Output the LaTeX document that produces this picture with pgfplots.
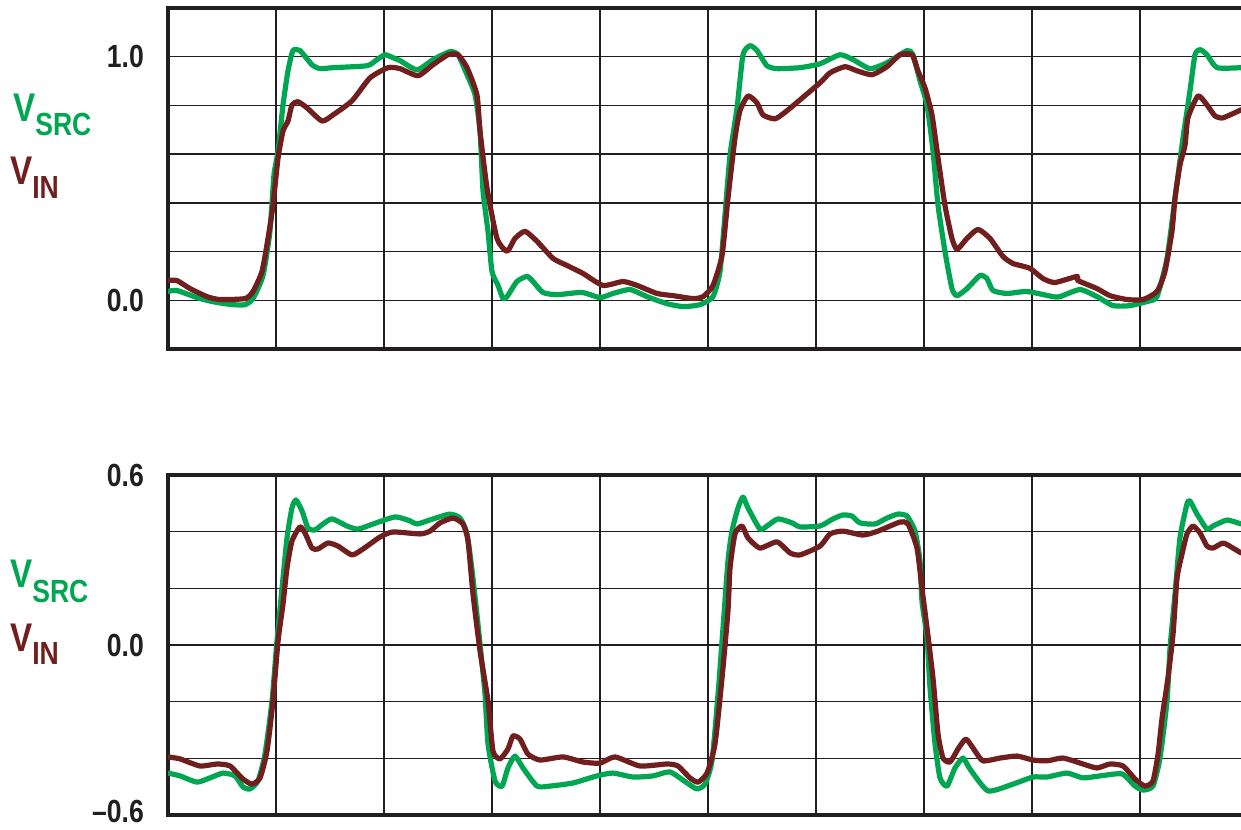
\documentclass[border=0pt]{standalone}
\usepackage{pgfplots}
\pgfplotsset{compat=1.18}
\usepackage{fontspec}
\setmainfont{Liberation Sans}[FakeStretch=0.83]
\definecolor{src}{RGB}{0,166,81}
\definecolor{vin}{RGB}{112,30,30}
\definecolor{frame}{RGB}{35,31,32}
\begin{document}
\begin{tikzpicture}
\path[use as bounding box] (0,0) rectangle (1241bp,830bp);
\pgfplotsset{panel/.style={scale only axis, width=1080bp, xmin=0, xmax=10,
  xtick={1,2,3,4,5,6,7,8,9}, xticklabels={}, grid=major,
  major grid style={line width=1.4bp, color=frame},
  major tick length=0pt,
  axis line style={line width=4bp, color=frame},
  tick label style={font=\fontsize{32bp}{32bp}\selectfont\bfseries, text=frame},
  yticklabel style={inner sep=0pt, xshift=-24bp},
  every axis plot/.append style={line width=5.2bp, line join=round, line cap=round, smooth, tension=0.35}}}
% ---------------- top panel ----------------
\begin{axis}[panel, at={(168bp,481bp)}, anchor=south west, height=341bp,
  ymin=-0.2, ymax=1.2, ytick={0,0.2,0.4,0.6,0.8,1.0}, yticklabels={0.0,{},{},{},{},1.0}]
\addplot[src] coordinates {
(0,0.036) (0.083,0.040) (0.296,0.007) (0.454,-0.009) (0.602,-0.018) (0.713,-0.018) (0.787,0.007)
(0.880,0.102) (0.944,0.283) (0.981,0.514) (1.019,0.613) (1.065,0.802) (1.111,0.942) (1.157,1.025)
(1.222,1.025) (1.333,0.967) (1.407,0.951) (1.528,0.955) (1.843,0.963) (1.935,0.988) (2.009,1.008)
(2.083,0.996) (2.148,0.984) (2.306,0.946) (2.454,0.988) (2.611,1.021) (2.685,1.008) (2.769,0.926)
(2.843,0.843) (2.889,0.695) (2.917,0.448) (2.963,0.283) (3.0,0.118) (3.056,0.061) (3.102,0.007)
(3.139,0.015) (3.231,0.077) (3.324,0.098) (3.380,0.077) (3.472,0.032) (3.602,0.023) (3.833,0.032)
(4.0,0.011) (4.120,0.028) (4.278,0.044) (4.435,0.015) (4.620,-0.014) (4.769,-0.026) (4.926,-0.018)
(5.046,0.015) (5.111,0.118) (5.157,0.349) (5.204,0.596) (5.269,0.790) (5.324,1.008) (5.389,1.045)
(5.454,1.025) (5.546,0.963) (5.639,0.951) (5.852,0.955) (6.037,0.971) (6.222,1.008) (6.343,0.988)
(6.5,0.951) (6.657,0.975) (6.843,1.025) (6.898,1.008) (6.963,0.901) (7.028,0.802) (7.083,0.613)
(7.130,0.390) (7.194,0.201) (7.259,0.048) (7.306,0.019) (7.398,0.048) (7.519,0.102) (7.583,0.089)
(7.639,0.040) (7.769,0.028) (7.954,0.036) (8.194,0.015) (8.259,0.015) (8.444,0.044) (8.602,0.015)
(8.750,-0.022) (8.907,-0.022) (9.065,-0.005) (9.157,0.015) (9.250,0.172) (9.324,0.419) (9.398,0.666)
(9.463,0.860) (9.509,1.008) (9.556,1.029) (9.620,1.008) (9.713,0.955) (9.935,0.955)
};
\addplot[vin] coordinates {
(0,0.081) (0.083,0.081) (0.204,0.048) (0.361,0.015) (0.481,0.003) (0.713,0.007) (0.787,0.036)
(0.870,0.118) (0.926,0.254) (0.972,0.390) (1.019,0.584) (1.065,0.695) (1.111,0.736) (1.148,0.802)
(1.204,0.815) (1.287,0.790) (1.426,0.736) (1.528,0.761) (1.704,0.819) (1.870,0.913) (2.037,0.955)
(2.148,0.951) (2.315,0.922) (2.454,0.967) (2.593,1.008) (2.685,1.008) (2.769,0.955) (2.861,0.843)
(2.889,0.695) (2.954,0.460) (3.046,0.254) (3.139,0.201) (3.213,0.254) (3.306,0.283) (3.417,0.242)
(3.565,0.172) (3.694,0.143) (3.843,0.110) (4.028,0.061) (4.213,0.077) (4.343,0.061) (4.528,0.028)
(4.676,0.019) (4.861,0.007) (4.954,0.015) (5.046,0.061) (5.130,0.184) (5.185,0.419) (5.250,0.666)
(5.296,0.778) (5.370,0.839) (5.454,0.810) (5.509,0.761) (5.620,0.745) (5.731,0.778) (6.037,0.893)
(6.130,0.934) (6.269,0.959) (6.380,0.942) (6.519,0.926) (6.657,0.959) (6.778,1.008) (6.889,1.008)
(6.944,0.942) (7.009,0.872) (7.074,0.761) (7.130,0.584) (7.194,0.390) (7.259,0.254) (7.306,0.209)
(7.398,0.254) (7.5,0.291) (7.611,0.254) (7.731,0.180) (7.824,0.151) (7.981,0.131) (8.102,0.089)
(8.213,0.073) (8.417,0.098) (8.426,0.081) (8.602,0.048) (8.722,0.019) (8.880,0.003) (9.028,0.003)
(9.157,0.036) (9.231,0.118) (9.296,0.283) (9.324,0.419) (9.370,0.555) (9.417,0.637) (9.444,0.749)
(9.537,0.839) (9.620,0.802) (9.694,0.757) (9.769,0.749) (9.935,0.782)
};
\end{axis}
% ---------------- bottom panel ----------------
\begin{axis}[panel, at={(168bp,15bp)}, anchor=south west, height=340bp,
  ymin=-0.6, ymax=0.6, ytick={-0.6,-0.4,-0.2,0,0.2,0.4,0.6},
  yticklabels={\raisebox{8bp}{–0.6},{},{},0.0,{},{},0.6}]
\addplot[src] coordinates {
(0,-0.452) (0.111,-0.462) (0.269,-0.484) (0.389,-0.469) (0.509,-0.452) (0.620,-0.462) (0.694,-0.501)
(0.759,-0.508) (0.833,-0.480) (0.898,-0.385) (0.963,-0.198) (1.009,0.014) (1.056,0.201) (1.102,0.378)
(1.148,0.484) (1.185,0.512) (1.241,0.473) (1.296,0.413) (1.361,0.406) (1.435,0.427) (1.519,0.445)
(1.657,0.420) (1.759,0.409) (1.898,0.427) (2.102,0.452) (2.241,0.438) (2.306,0.427) (2.454,0.445)
(2.611,0.462) (2.704,0.448) (2.769,0.392) (2.824,0.236) (2.889,0.004) (2.935,-0.173) (2.963,-0.349)
(3.028,-0.480) (3.093,-0.498) (3.148,-0.434) (3.213,-0.392) (3.287,-0.434) (3.417,-0.498) (3.537,-0.498)
(3.750,-0.487) (3.972,-0.462) (4.120,-0.452) (4.306,-0.466) (4.491,-0.462) (4.648,-0.448) (4.806,-0.487)
(4.898,-0.508) (4.972,-0.491) (5.037,-0.409) (5.093,-0.173) (5.139,0.060) (5.185,0.297) (5.222,0.402)
(5.278,0.484) (5.324,0.522) (5.370,0.484) (5.481,0.409) (5.546,0.420) (5.648,0.445) (5.778,0.431)
(5.852,0.417) (6.037,0.420) (6.157,0.445) (6.250,0.459) (6.333,0.455) (6.407,0.431) (6.546,0.427)
(6.657,0.448) (6.759,0.462) (6.843,0.455) (6.917,0.402) (6.963,0.297) (6.981,0.155) (7.028,0.025)
(7.056,-0.152) (7.102,-0.349) (7.148,-0.469) (7.213,-0.498) (7.287,-0.434) (7.361,-0.399) (7.426,-0.438)
(7.593,-0.515) (7.824,-0.491) (8.009,-0.466) (8.139,-0.466) (8.324,-0.452) (8.472,-0.469) (8.630,-0.462)
(8.833,-0.455) (8.954,-0.498) (9.028,-0.512) (9.120,-0.498) (9.185,-0.399) (9.250,-0.198) (9.278,-0.011)
(9.324,0.180) (9.370,0.378) (9.435,0.498) (9.463,0.508) (9.528,0.462) (9.620,0.409) (9.676,0.420)
(9.806,0.441) (9.935,0.427)
};
\addplot[vin] coordinates {
(0,-0.395) (0.111,-0.402) (0.296,-0.427) (0.454,-0.420) (0.574,-0.427) (0.694,-0.473) (0.778,-0.491)
(0.852,-0.469) (0.917,-0.374) (0.972,-0.198) (1.019,0.014) (1.065,0.145) (1.102,0.272) (1.148,0.367)
(1.222,0.417) (1.269,0.395) (1.333,0.342) (1.389,0.339) (1.481,0.360) (1.574,0.349) (1.704,0.318)
(1.806,0.339) (1.963,0.381) (2.083,0.399) (2.333,0.392) (2.426,0.402) (2.519,0.431) (2.639,0.448)
(2.731,0.427) (2.778,0.367) (2.824,0.180) (2.889,-0.021) (2.963,-0.198) (3.009,-0.374) (3.074,-0.402)
(3.148,-0.367) (3.194,-0.321) (3.259,-0.332) (3.333,-0.385) (3.444,-0.406) (3.657,-0.395) (3.843,-0.413)
(4.0,-0.417) (4.139,-0.395) (4.370,-0.427) (4.620,-0.420) (4.722,-0.427) (4.833,-0.469) (4.907,-0.484)
(4.991,-0.452) (5.065,-0.349) (5.130,-0.116) (5.185,0.120) (5.204,0.272) (5.250,0.392) (5.315,0.420)
(5.370,0.378) (5.481,0.342) (5.639,0.364) (5.759,0.325) (5.852,0.318) (6.037,0.349) (6.130,0.392)
(6.250,0.402) (6.435,0.388) (6.574,0.402) (6.778,0.434) (6.852,0.427) (6.935,0.342) (6.981,0.201)
(7.028,0.060) (7.083,-0.116) (7.130,-0.314) (7.176,-0.399) (7.241,-0.413) (7.315,-0.367) (7.389,-0.332)
(7.472,-0.374) (7.546,-0.409) (7.704,-0.399) (7.861,-0.392) (8.009,-0.406) (8.139,-0.409) (8.287,-0.399)
(8.472,-0.420) (8.602,-0.434) (8.722,-0.420) (8.843,-0.427) (8.954,-0.473) (9.046,-0.498) (9.120,-0.480)
(9.167,-0.385) (9.204,-0.258) (9.259,-0.116) (9.306,0.039) (9.343,0.236) (9.389,0.321) (9.435,0.392)
(9.491,0.420) (9.556,0.395) (9.620,0.349) (9.676,0.342) (9.769,0.360) (9.861,0.342) (9.935,0.325)
};
\end{axis}
% ---------------- side labels ----------------
\node[anchor=base west, inner sep=0, text=src] at (13bp,708bp)
  {\bfseries\fontsize{40bp}{40bp}\selectfont V\raisebox{-14bp}{\fontsize{32bp}{32bp}\selectfont SRC}};
\node[anchor=base west, inner sep=0, text=vin] at (10bp,645bp)
  {\bfseries\fontsize{40bp}{40bp}\selectfont V\raisebox{-14bp}{\fontsize{32bp}{32bp}\selectfont IN}};
\node[anchor=base west, inner sep=0, text=src] at (10bp,242bp)
  {\bfseries\fontsize{40bp}{40bp}\selectfont V\raisebox{-15bp}{\fontsize{32bp}{32bp}\selectfont SRC}};
\node[anchor=base west, inner sep=0, text=vin] at (10bp,178bp)
  {\bfseries\fontsize{40bp}{40bp}\selectfont V\raisebox{-13bp}{\fontsize{32bp}{32bp}\selectfont IN}};
\end{tikzpicture}
\end{document}
